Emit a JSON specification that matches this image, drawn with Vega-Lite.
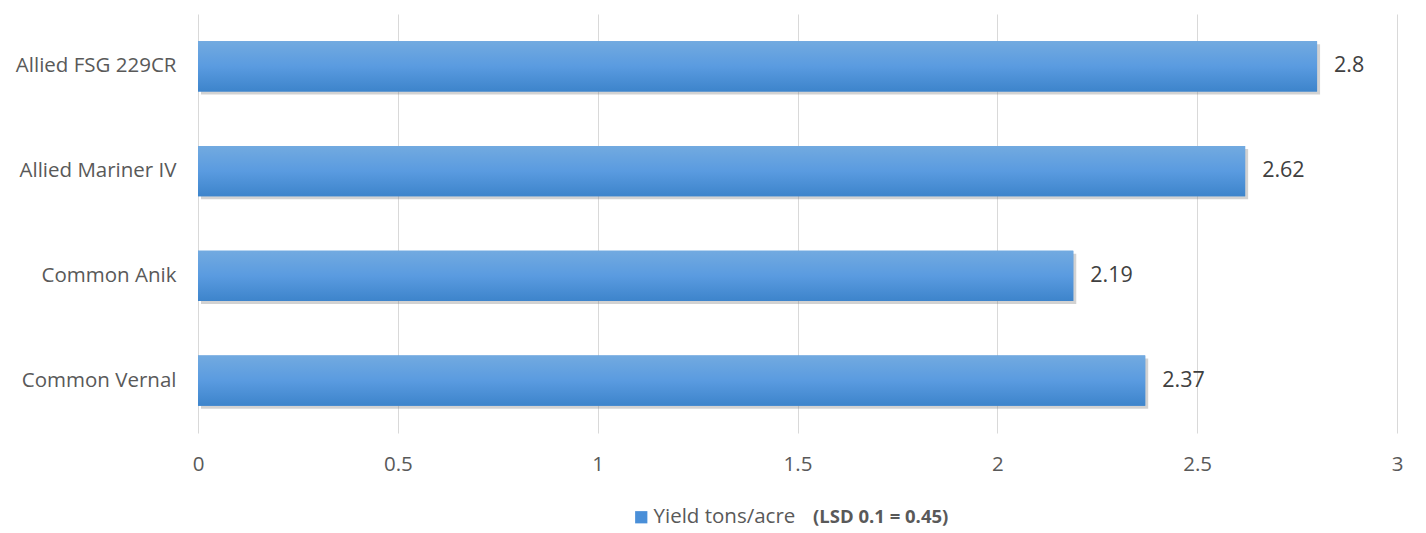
{
"$schema": "https://vega.github.io/schema/vega-lite/v6.json",
"width": 1199,
"height": 419,
"autosize": {"type": "none"},
"padding": {"left": 198, "top": 14, "right": 29, "bottom": 100},
"background": "white",
"config": {"view": {"stroke": null}, "font": "Open Sans"},
"data": {"values": [
{"variety": "Allied FSG 229CR", "yield": 2.8, "label": "2.8"},
{"variety": "Allied Mariner IV", "yield": 2.62, "label": "2.62"},
{"variety": "Common Anik", "yield": 2.19, "label": "2.19"},
{"variety": "Common Vernal", "yield": 2.37, "label": "2.37"}
]},
"encoding": {
"y": {"field": "variety", "type": "nominal", "sort": null, "scale": {"paddingInner": 0.52, "paddingOuter": 0.26}, "axis": {"title": null, "domain": false, "ticks": false, "grid": false, "labelFontSize": 20.5, "labelColor": "#595959", "labelPadding": 22, "labelFont": "Open Sans"}},
"x": {"field": "yield", "type": "quantitative", "scale": {"domain": [0, 3], "nice": false}, "axis": {"title": null, "values": [0, 0.5, 1, 1.5, 2, 2.5, 3], "format": "~g", "labelFlush": false, "domain": false, "ticks": false, "grid": true, "gridColor": "#d9d9d9", "gridWidth": 1, "labelFontSize": 20.5, "labelColor": "#595959", "labelPadding": 21, "labelFont": "Open Sans"}}
},
"layer": [
{"mark": {"type": "bar", "color": "#7f7f7f", "opacity": 0.35, "xOffset": 3, "yOffset": 3}},
{"mark": {"type": "bar"}, "encoding": {"color": {"datum": "Yield tons/acre", "scale": {"range": ["#4a8fd8"]}, "legend": {"orient": "none", "legendX": 433, "legendY": 493, "direction": "horizontal", "title": "(LSD 0.1 = 0.45)", "titleOrient": "right", "titleFontSize": 18.5, "titleFontWeight": "bold", "titleColor": "#595959", "titlePadding": 18, "symbolType": "square", "symbolSize": 150, "labelFontSize": 20.5, "labelColor": "#595959", "labelOffset": 2, "symbolStrokeWidth": 0}}}},
{"mark": {"type": "bar", "color": {"gradient": "linear", "x1": 0, "y1": 0, "x2": 0, "y2": 1, "stops": [{"offset": 0, "color": "#72aae0"}, {"offset": 0.5, "color": "#5a9be0"}, {"offset": 1, "color": "#3d84cb"}]}}},
{"mark": {"type": "text", "align": "left", "dx": 17, "fontSize": 21.5, "color": "#404040", "font": "Open Sans"}, "encoding": {"text": {"field": "label"}}}
]
}
